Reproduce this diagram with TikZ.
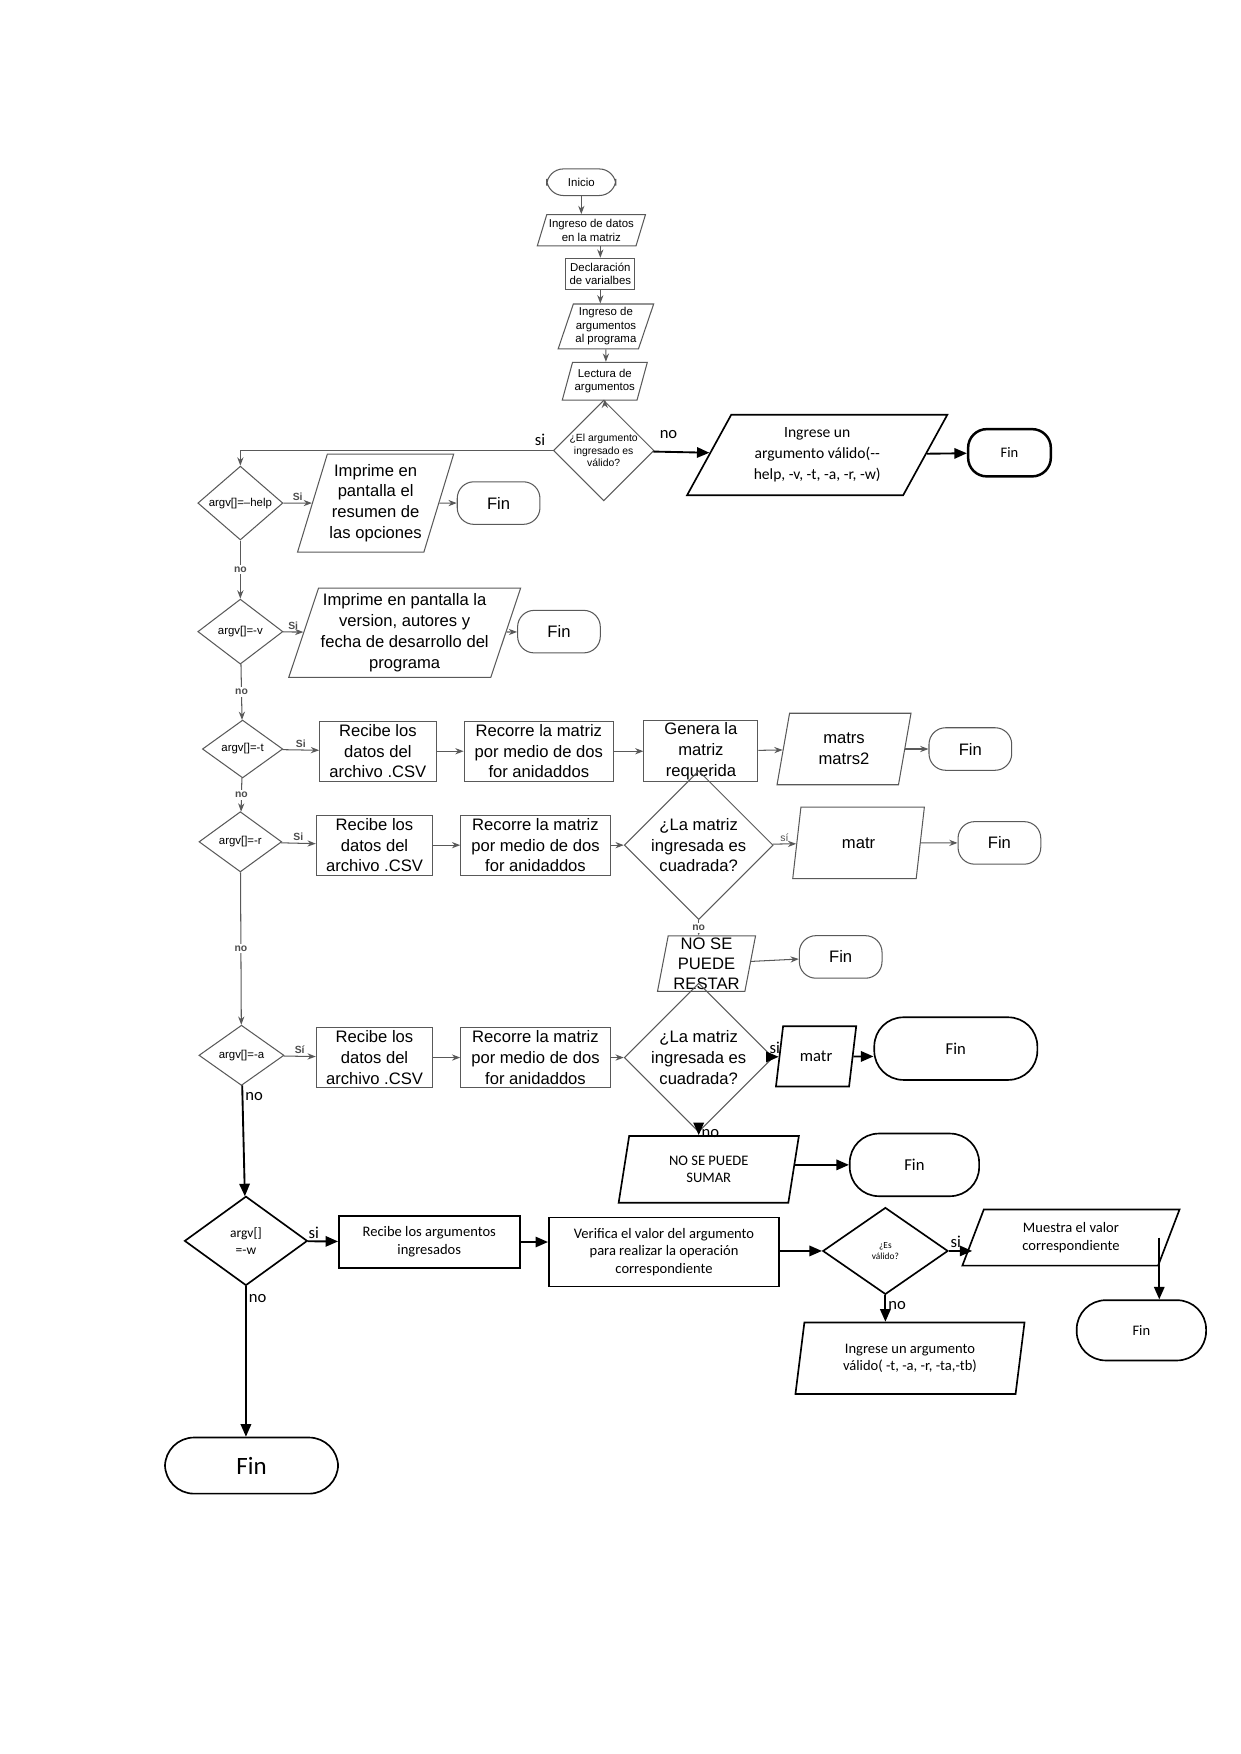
\documentclass[tikz,border=0pt]{standalone}
\usepackage{fontspec}
\setmainfont{Liberation Sans}
\newfontfamily\calibri{Carlito}
\usetikzlibrary{shapes.geometric,arrows.meta}
\begin{document}
\begin{tikzpicture}[x=0.01892cm,y=-0.01892cm]
\tikzstyle{g} = [draw=black!65, line width=0.5pt, font=\fontsize{7.5}{9}\selectfont, align=center, inner sep=1pt]
\tikzstyle{term} = [g, rounded corners=8pt]
\tikzstyle{io} = [g, trapezium, trapezium left angle=70, trapezium right angle=110, trapezium stretches=true]
\tikzstyle{dec} = [g, diamond, inner sep=0pt]
\tikzstyle{k} = [draw=black, line width=0.8pt, font=\calibri\fontsize{7}{8.5}\selectfont, align=center, inner sep=1pt]
\tikzstyle{kio} = [k, trapezium, trapezium left angle=70, trapezium right angle=110, trapezium stretches=true]
\tikzstyle{garr} = [draw=black!65, line width=0.5pt, -{Stealth[length=4pt]}]
\tikzstyle{karr} = [draw=black, line width=0.9pt, -{Triangle[length=6pt,width=5pt]}]
\tikzstyle{lbl} = [font=\fontsize{5}{6}\selectfont\bfseries, text=black!70, inner sep=1pt]
\tikzstyle{klbl} = [font=\calibri\fontsize{8}{9}\selectfont, inner sep=1pt]
\useasboundingbox (0,0) rectangle (1110,1569);

% parte superior
\node at (520,163) [term, minimum width=1.17cm, minimum height=0.45cm, font=\fontsize{5.5}{6.5}\selectfont] (ini) {Inicio};
\node at (529,206) [io, minimum width=1.7cm, minimum height=0.53cm, font=\fontsize{5.5}{6.5}\selectfont] (dat) {Ingreso de datos\\en la matriz};
\node at (537,245) [g, minimum width=1.17cm, minimum height=0.53cm, font=\fontsize{5.5}{6.5}\selectfont] (dec1) {Declaración\\de varialbes};
\node at (542,292) [io, minimum width=1.32cm, minimum height=0.76cm, font=\fontsize{5.5}{6.5}\selectfont] (arg) {Ingreso de\\argumentos\\al programa};
\node at (541,341) [io, minimum width=1.1cm, minimum height=0.64cm, font=\fontsize{5.5}{6.5}\selectfont] (lec) {Lectura de\\argumentos};
\node at (540,403) [dec, minimum width=1.59cm, minimum height=0.87cm, font=\fontsize{5}{6}\selectfont] (val) {¿El argumento\\ingresado es\\válido?};
\node at (731,407) [kio, trapezium left angle=60, trapezium right angle=120, minimum width=4.44cm, minimum height=1.36cm, font=\calibri\fontsize{7.5}{10}\selectfont] (err) {Ingrese un\\argumento válido(--\\help, -v, -t, -a, -r, -w)};
\node at (903,405) [k, rounded corners=9pt, line width=1.2pt, minimum width=1.4cm, minimum height=0.8cm] (fin0) {Fin};
\node at (483,393) [klbl] (si0) {si};
\node at (598,389) [klbl] (no0) {no};

\draw[garr] (ini) -- (ini|-dat.north);
\draw[garr] (dat.south-|dec1) -- (dec1);
\draw[garr] (dec1) -- (dec1|-arg.north);
\draw[garr] (arg) -- (arg|-lec.north);
\draw[garr] (lec) -- (lec|-val.north);
\draw[karr] (val) -- (err);
\draw[karr] (err) -- (fin0);

% --help
\node at (215,450) [dec, minimum width=1.44cm, minimum height=1.02cm, font=\fontsize{5.5}{6.5}\selectfont] (help) {argv[]=--help};
\node at (336,450) [io, minimum width=1.98cm, minimum height=1.66cm, font=\fontsize{8}{10}\selectfont] (ph) {Imprime en\\pantalla el\\resumen de\\las opciones};
\node at (446,450) [term, minimum width=1.4cm, minimum height=0.72cm, font=\fontsize{8}{10}\selectfont] (fin1) {Fin};
\draw[garr] (val) -| (help);
\draw[garr] (help) -- node[lbl, above]{Si} (ph);
\draw[garr] (ph) -- (fin1);

% -v
\node at (215,565) [dec, minimum width=1.44cm, minimum height=1.1cm, font=\fontsize{5.5}{6.5}\selectfont] (ver) {argv[]=-v};
\node at (362,566) [io, minimum width=3.02cm, minimum height=1.51cm, font=\fontsize{8}{10}\selectfont] (pv) {Imprime en pantalla la\\version, autores y\\fecha de desarrollo del\\programa};
\node at (500,565) [term, minimum width=1.4cm, minimum height=0.72cm, font=\fontsize{8}{10}\selectfont] (fin2) {Fin};
\draw[garr] (help) -- node[lbl, fill=white]{no} (ver);
\draw[garr] (ver) -- node[lbl, above]{Si} (pv);
\draw[garr] (pv) -- (fin2);

% -t
\node at (217,670) [dec, minimum width=1.36cm, minimum height=0.98cm, font=\fontsize{5.5}{6.5}\selectfont] (tt) {argv[]=-t};
\node at (338,672) [g, minimum width=1.97cm, minimum height=1.02cm, font=\fontsize{8}{10}\selectfont] (t1) {Recibe los\\datos del\\archivo .CSV};
\node at (482,672) [g, minimum width=2.53cm, minimum height=1.02cm, font=\fontsize{8}{10}\selectfont] (t2) {Recorre la matriz\\por medio de dos\\for anidaddos};
\node at (627,672) [g, minimum width=1.93cm, minimum height=1.02cm, font=\fontsize{8}{10}\selectfont] (t3) {Genera la\\matriz\\requerida};
\node at (755,670) [io, trapezium left angle=80, trapezium right angle=100, minimum width=2.27cm, minimum height=1.21cm, font=\fontsize{8}{10}\selectfont] (t4) {matrs\\matrs2};
\node at (868,670) [term, minimum width=1.4cm, minimum height=0.72cm, font=\fontsize{8}{10}\selectfont] (fin3) {Fin};
\draw[garr] (ver) -- node[lbl, fill=white]{no} (tt);
\draw[garr] (tt) -- node[lbl, above]{Si} (t1);
\draw[garr] (t1) -- (t2);
\draw[garr] (t2) -- (t3);
\draw[garr] (t3) -- (t4);
\draw[garr] (t4) -- (fin3);

% -r
\node at (215,753) [dec, minimum width=1.4cm, minimum height=1.02cm, font=\fontsize{5.5}{6.5}\selectfont] (rr) {argv[]=-r};
\node at (335,756) [g, minimum width=1.97cm, minimum height=1.02cm, font=\fontsize{8}{10}\selectfont] (r1) {Recibe los\\datos del\\archivo .CSV};
\node at (479,756) [g, minimum width=2.53cm, minimum height=1.02cm, font=\fontsize{8}{10}\selectfont] (r2) {Recorre la matriz\\por medio de dos\\for anidaddos};
\node at (625,756) [dec, minimum width=1.85cm, minimum height=1.66cm, font=\fontsize{8}{10}\selectfont] (r3) {¿La matriz\\ingresada es\\cuadrada?};
\node at (768,754) [io, trapezium left angle=80, trapezium right angle=100, minimum width=2.23cm, minimum height=1.21cm, font=\fontsize{8}{10}\selectfont] (r4) {matr};
\node at (894,754) [term, minimum width=1.4cm, minimum height=0.72cm, font=\fontsize{8}{10}\selectfont] (fin4) {Fin};
\node at (632,862) [io, trapezium left angle=80, trapezium right angle=100, minimum width=1.66cm, minimum height=0.91cm, font=\fontsize{8}{9.5}\selectfont] (r5) {NO SE\\PUEDE\\RESTAR};
\node at (752,856) [term, minimum width=1.4cm, minimum height=0.72cm, font=\fontsize{8}{10}\selectfont] (fin5) {Fin};
\draw[garr] (tt) -- node[lbl, fill=white]{no} (rr);
\draw[garr] (rr) -- node[lbl, above]{Si} (r1);
\draw[garr] (r1) -- (r2);
\draw[garr] (r2) -- (r3);
\draw[garr] (r3) -- node[lbl, font=\fontsize{5}{6}\selectfont, above]{sí} (r4);
\draw[garr] (r4) -- (fin4);
\draw[garr] (r3) -- node[lbl, fill=white]{no} (r3|-r5.north);
\draw[garr] (r5) -- (fin5);

% -a
\node at (216,944) [dec, minimum width=1.44cm, minimum height=1.02cm, font=\fontsize{5.5}{6.5}\selectfont] (aa) {argv[]=-a};
\node at (335,946) [g, minimum width=1.97cm, minimum height=1.02cm, font=\fontsize{8}{10}\selectfont] (a1) {Recibe los\\datos del\\archivo .CSV};
\node at (479,946) [g, minimum width=2.53cm, minimum height=1.02cm, font=\fontsize{8}{10}\selectfont] (a2) {Recorre la matriz\\por medio de dos\\for anidaddos};
\node at (625,946) [dec, minimum width=1.85cm, minimum height=1.66cm, font=\fontsize{8}{10}\selectfont] (a3) {¿La matriz\\ingresada es\\cuadrada?};
\node at (730,945) [kio, trapezium left angle=75, trapezium right angle=105, minimum width=1.36cm, minimum height=1.02cm, font=\calibri\fontsize{8}{10}\selectfont] (a4) {matr};
\node at (855,938) [k, rounded corners=14pt, minimum width=2.76cm, minimum height=1.06cm, font=\calibri\fontsize{8}{10}\selectfont] (fin6) {Fin};
\node at (634,1046) [kio, trapezium left angle=80, trapezium right angle=100, minimum width=3.06cm, minimum height=1.13cm] (a5) {NO SE PUEDE\\SUMAR};
\node at (818,1042) [k, rounded corners=14pt, minimum width=2.19cm, minimum height=1.06cm, font=\calibri\fontsize{8}{10}\selectfont] (fin7) {Fin};
\draw[garr] (rr) -- node[lbl, fill=white]{no} (aa);
\draw[garr] (aa) -- node[lbl, above]{Sí} (a1);
\draw[garr] (a1) -- (a2);
\draw[garr] (a2) -- (a3);
\draw[karr] (a3) -- node[klbl, above, pos=0.3]{si} (a4);
\draw[karr] (a4) -- (a4-|fin6.west);
\draw[karr] (a3) -- node[klbl, right, pos=0.3]{no} (a3|-a5.north);
\draw[karr] (a5.east|-fin7) -- (fin7);

% -w
\node at (220,1110) [k, diamond, inner sep=0pt, minimum width=2.08cm, minimum height=1.51cm, font=\calibri\fontsize{6.5}{8}\selectfont] (ww) {argv[]\\=-w};
\node at (384,1111) [k, minimum width=3.06cm, minimum height=0.87cm] (w1) {Recibe los argumentos\\ingresados};
\node at (594,1120) [k, minimum width=3.9cm, minimum height=1.17cm] (w2) {Verifica el valor del argumento\\para realizar la operación\\correspondiente};
\node at (792,1119) [k, diamond, inner sep=0pt, minimum width=2.12cm, minimum height=1.47cm, font=\calibri\fontsize{4.5}{5.5}\selectfont] (w3) {¿Es\\válido?};
\node at (958,1107) [kio, trapezium left angle=70, trapezium right angle=110, minimum width=3.69cm, minimum height=0.95cm] (w4) {Muestra el valor\\correspondiente};
\node at (1021,1190) [k, rounded corners=14pt, minimum width=2.19cm, minimum height=1.02cm] (fin8) {Fin};
\node at (814,1215) [kio, trapezium left angle=80, trapezium right angle=100, minimum width=3.9cm, minimum height=1.21cm] (w5) {Ingrese un argumento\\válido( -t, -a, -r, -ta,-tb)};
\node at (225,1311) [k, rounded corners=14pt, minimum width=2.93cm, minimum height=0.95cm, font=\calibri\fontsize{12}{14}\selectfont] (fin9) {Fin};
\draw[karr] (aa) -- node[klbl, right, pos=0.1]{no} (ww);
\draw[karr] (ww) -- node[klbl, above, pos=0.2]{si} (w1);
\draw[karr] (w1) -- (w1-|w2.west);
\draw[karr] (w2.east|-w3) -- (w3);
\draw[karr] (w3) -- node[klbl, above, pos=0.3]{si} (w4.west|-w3);
\draw[karr] (1037,1107) -- (1037,1107|-fin8.north);
\draw[karr] (w3) -- node[klbl, right, pos=0.4]{no} (w3|-w5.north);
\draw[karr] (ww) -- node[klbl, right, pos=0.08]{no} (ww|-fin9.north);
\end{tikzpicture}
\end{document}
